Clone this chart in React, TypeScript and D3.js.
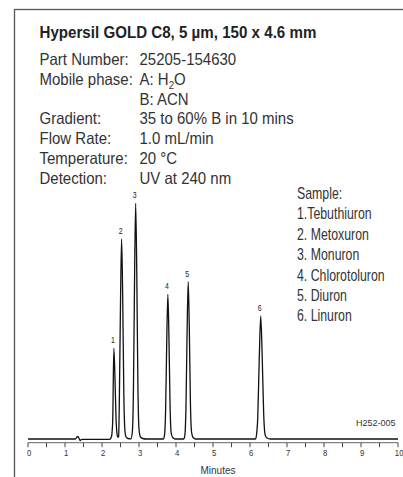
import React from "react";
import * as d3 from "d3";

const title = "Hypersil GOLD C8, 5 µm, 150 x 4.6 mm";
const infoLabels = ["Part Number:", "Mobile phase:", "", "Gradient:", "Flow Rate:", "Temperature:", "Detection:"];
const infoValues = ["25205-154630", "A: H|2|O", "B: ACN", "35 to 60% B in 10 mins", "1.0 mL/min", "20 °C", "UV at 240 nm"];
const sampleLines = ["Sample:", "1.Tebuthiuron", "2. Metoxuron", "3. Monuron", "4. Chlorotoluron", "5. Diuron", "6. Linuron"];

const peakNames = ["1", "2", "3", "4", "5", "6"];
const peakTimes = [2.32, 2.53, 2.91, 3.78, 4.33, 6.29];
const peakHeights = [90.7, 200, 235.7, 144.7, 157.3, 123];

const traceTimes = [
  0, 1.28, 1.32, 1.35, 1.38, 1.41, 1.44, 1.48,
  2.2, 2.23, 2.26, 2.29, 2.32, 2.35, 2.38, 2.41, 2.43,
  2.45, 2.47, 2.5, 2.53, 2.56, 2.59, 2.62, 2.65, 2.7,
  2.78, 2.82, 2.85, 2.88, 2.91, 2.94, 2.97, 3.0, 3.04, 3.1, 3.2,
  3.66, 3.69, 3.72, 3.75, 3.78, 3.81, 3.84, 3.87, 3.91, 3.98,
  4.21, 4.24, 4.27, 4.3, 4.33, 4.36, 4.39, 4.42, 4.46, 4.53,
  6.15, 6.17, 6.21, 6.25, 6.29, 6.33, 6.37, 6.41, 6.46, 6.55,
  10,
];
const traceSignal = [
  0, 0, 1.8, 2.5, 0.5, -1.5, -0.6, -0.3,
  -0.3, 0.3, 3, 19, 90.7, 62, 20, 4, 1.6,
  3, 42, 136, 200, 140, 45, 8, 2, 0.5,
  0.2, 7, 50, 160, 235.7, 165, 55, 10, 2, 0.5, 0,
  0, 4, 30, 98, 144.7, 100, 33, 6, 1.5, 0,
  0, 4, 33, 107, 157.3, 110, 36, 7, 1.5, 0,
  0, 2.5, 22, 80, 123, 82, 25, 4, 1, 0,
  0,
];

const xTicks = [0, 0.5, 1, 1.5, 2, 2.5, 3, 3.5, 4, 4.5, 5, 5.5, 6, 6.5, 7, 7.5, 8, 8.5, 9, 9.5, 10];
const xLabels = ["0", "1", "2", "3", "4", "5", "6", "7", "8", "9", "10"];
const xLabelValues = [0, 1, 2, 3, 4, 5, 6, 7, 8, 9, 10];

const W = 403;
const H = 477;
const FONT = "'Liberation Sans', Arial, sans-serif";

function NText(props: {
  x: number;
  y: number;
  size: number;
  sx?: number;
  anchor?: "start" | "middle" | "end";
  fill?: string;
  weight?: string;
  children: React.ReactNode;
}) {
  const { x, y, size, sx = 0.82, anchor = "start", fill = "#333", weight = "normal", children } = props;
  return (
    <text
      transform={`translate(${x},${y}) scale(${sx},1)`}
      textAnchor={anchor}
      fontFamily={FONT}
      fontSize={size}
      fontWeight={weight}
      fill={fill}
    >
      {children}
    </text>
  );
}

export default function App() {
  const x = d3.scaleLinear().domain([0, 10]).range([28, 398]);
  const y = d3.scaleLinear().domain([0, 250]).range([439, 189]);
  const pts: [number, number][] = traceTimes.map((t, i) => [t, traceSignal[i]]);
  const line = d3
    .line<[number, number]>()
    .x((d) => x(d[0]))
    .y((d) => y(d[1]))
    .curve(d3.curveMonotoneX);

  const axisY = 442.7;
  const rowY = (i: number) => 65.3 + i * 19.7;

  const renderValue = (v: string) => {
    if (v.includes("|")) {
      const [a, sub, b] = v.split("|");
      return (
        <>
          {a}
          <tspan fontSize={10.5} dy={3.5}>{sub}</tspan>
          <tspan dy={-3.5}>{b}</tspan>
        </>
      );
    }
    return v;
  };

  return (
    <svg width={W} height={H} style={{ position: "absolute", left: 0, top: 0, background: "#fff" }}>
      <rect x={0} y={0} width={W} height={H} fill="#fff" />
      <rect x={14.5} y={9.5} width={600} height={600} fill="none" stroke="#555" strokeWidth={1.3} />

      <NText x={39.5} y={37.5} size={15.6} sx={0.97} weight="bold" fill="#222">
        {title}
      </NText>

      {infoLabels.map((l, i) => (
        <NText key={"l" + i} x={39.5} y={rowY(i)} size={16.3} sx={0.92}>
          {l}
        </NText>
      ))}
      {infoValues.map((v, i) => (
        <NText key={"v" + i} x={139.5} y={rowY(i)} size={16.3} sx={0.92}>
          {renderValue(v)}
        </NText>
      ))}

      {sampleLines.map((s, i) => (
        <NText key={"s" + i} x={297} y={199 + i * 20.4} size={15.8} sx={0.78}>
          {s}
        </NText>
      ))}

      <NText x={395.5} y={425.5} size={9.5} sx={0.95} anchor="end">
        H252-005
      </NText>

      <path d={line(pts) || ""} fill="none" stroke="#111" strokeWidth={1.3} strokeLinejoin="round" />

      {peakNames.map((n, i) => (
        <NText key={"p" + n} x={x(peakTimes[i]) - 1} y={y(peakHeights[i]) - 5} size={8.5} anchor="middle" fill="#222">
          {n}
        </NText>
      ))}

      <line x1={x(0)} x2={x(10)} y1={axisY} y2={axisY} stroke="#666" strokeWidth={1} />
      {xTicks.map((t) => (
        <line key={"t" + t} x1={x(t)} x2={x(t)} y1={axisY} y2={axisY + 4.5} stroke="#444" strokeWidth={1} />
      ))}
      {xLabels.map((l, i) => (
        <NText key={"x" + l} x={x(xLabelValues[i]) + 1.2} y={455.5} size={9.5} anchor="middle">
          {l}
        </NText>
      ))}
      <NText x={218} y={473.5} size={10.5} sx={0.95} anchor="middle">
        Minutes
      </NText>
    </svg>
  );
}
